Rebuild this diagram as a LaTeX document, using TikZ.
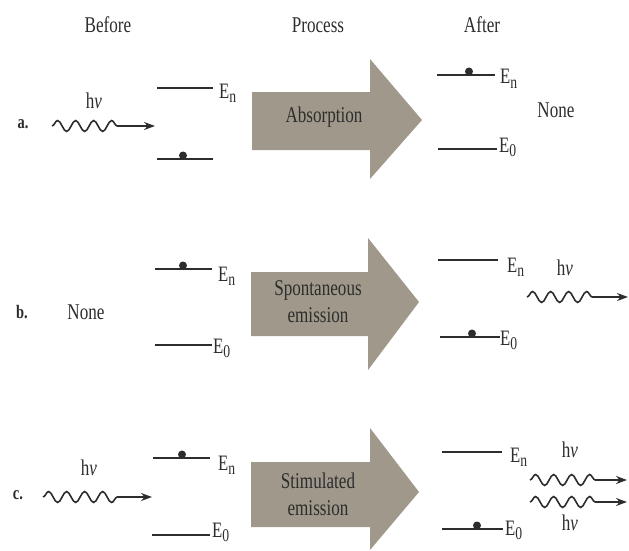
\documentclass[tikz,border=0pt]{standalone}
\usepackage{fontspec}
\setmainfont{Liberation Serif}
\usetikzlibrary{arrows.meta,decorations.pathmorphing}
\definecolor{ink}{RGB}{45,45,45}
\definecolor{procfill}{RGB}{160,152,138}
% narrow type, as in the printed figure
\newcommand\sq[1]{\scalebox{0.76}[1]{#1}}
\newcommand\lvl[1]{\sq{E\raisebox{-4.5pt}{\fontsize{18}{18}\selectfont #1}}}
\tikzset{
  txt/.style={font=\fontsize{22.5}{27}\selectfont, text=ink, inner sep=0pt},
  tag/.style={font=\bfseries\fontsize{19}{19}\selectfont, text=ink, inner sep=0pt},
  lbl/.style={font=\fontsize{22}{22}\selectfont, text=ink, inner sep=0pt, anchor=base west},
  level/.style={draw=ink, line width=2.2pt},
  electron/.style={circle, fill=ink, minimum size=8pt, inner sep=0pt},
  photon/.style={draw=ink, line width=1.6pt, decorate,
    decoration={snake, segment length=18pt, amplitude=5.5pt, post length=#1},
    -{Stealth[length=11pt,width=8pt]}},
  procarrow/.style={fill=procfill}
}
\begin{document}
\begin{tikzpicture}[x=1pt,y=-1pt]
\useasboundingbox (0,0) rectangle (629,551);

% column headings
\node[txt] (hbefore) at (108,25) {\sq{Before}};
\node[txt] (hproc) at (318,25) {\sq{Process}};
\node[txt] (hafter) at (482,25) {\sq{After}};

% ---------- a. absorption ----------
\node[tag] (ta) at (23,124) {\sq{a.}};
\node[txt] (hva) at (94,101) {\sq{h\textit{ν}}};
\coordinate (pa1) at (52,126); \coordinate (pa2) at (155,126);
\draw[photon=33pt] (pa1) -- (pa2);
\coordinate (an1) at (157,88); \coordinate (an2) at (213,88);
\coordinate (a01) at (157,159); \coordinate (a02) at (213,159);
\draw[level] (an1) -- (an2);
\draw[level] (a01) -- (a02);
\node[electron] (ea) at (183,155.5) {};
\node[lbl] (lan) at (219,98) {\lvl{n}};
\fill[procarrow] (252,92) -- (370,92) -- (370,59) -- (422,120) -- (370,179) -- (370,150) -- (252,150) -- cycle;
\node[txt] (pra) at (324,117) {\sq{Absorption}};
\coordinate (bn1) at (437,75); \coordinate (bn2) at (495,75);
\coordinate (b01) at (438,149); \coordinate (b02) at (497,149);
\draw[level] (bn1) -- (bn2);
\draw[level] (b01) -- (b02);
\node[electron] (fa) at (469,71.5) {};
\node[lbl] (lbn) at (500,84) {\lvl{n}};
\node[lbl] (lb0) at (499,152) {\lvl{0}};
\node[txt] (nonea) at (556,110) {\sq{None}};

% ---------- b. spontaneous emission ----------
\node[tag] (tb) at (22,312) {\sq{b.}};
\node[txt] (noneb) at (86,312) {\sq{None}};
\coordinate (cn1) at (155,269); \coordinate (cn2) at (212,269);
\coordinate (c01) at (155,345); \coordinate (c02) at (212,345);
\draw[level] (cn1) -- (cn2);
\draw[level] (c01) -- (c02);
\node[electron] (eb) at (183,265.5) {};
\node[lbl] (lcn) at (218,281) {\lvl{n}};
\node[lbl] (lc0) at (213,353) {\lvl{0}};
\fill[procarrow] (251,272) -- (368,272) -- (368,238) -- (419,302) -- (368,370) -- (368,336) -- (251,336) -- cycle;
\node[txt, align=center] (prb) at (318,302) {\sq{Spontaneous}\\\sq{emission}};
\coordinate (dn1) at (438,260); \coordinate (dn2) at (498,260);
\coordinate (d01) at (440,337); \coordinate (d02) at (500,337);
\draw[level] (dn1) -- (dn2);
\draw[level] (d01) -- (d02);
\node[electron] (fb) at (472,333.5) {};
\node[lbl] (ldn) at (507,272) {\lvl{n}};
\node[lbl] (ld0) at (500,345) {\lvl{0}};
\node[txt] (hvb) at (565,268) {\sq{h\textit{ν}}};
\coordinate (pb1) at (527,297); \coordinate (pb2) at (628,297);
\draw[photon=28pt] (pb1) -- (pb2);

% ---------- c. stimulated emission ----------
\node[tag] (tc) at (18,495) {\sq{c.}};
\node[txt] (hvc) at (89,468) {\sq{h\textit{ν}}};
\coordinate (pc1) at (43,497); \coordinate (pc2) at (152,497);
\draw[photon=34pt] (pc1) -- (pc2);
\coordinate (en1) at (153,458); \coordinate (en2) at (210,458);
\coordinate (e01) at (152,535); \coordinate (e02) at (210,535);
\draw[level] (en1) -- (en2);
\draw[level] (e01) -- (e02);
\node[electron] (ec) at (182,454.5) {};
\node[lbl] (len) at (218,470) {\lvl{n}};
\node[lbl] (le0) at (212,537) {\lvl{0}};
\fill[procarrow] (251,462) -- (370,462) -- (370,428) -- (419,492) -- (370,550) -- (370,527) -- (251,527) -- cycle;
\node[txt, align=center] (prc) at (318,494) {\sq{Stimulated}\\\sq{emission}};
\coordinate (gn1) at (442,452); \coordinate (gn2) at (502,452);
\coordinate (g01) at (442,529); \coordinate (g02) at (503,529);
\draw[level] (gn1) -- (gn2);
\draw[level] (g01) -- (g02);
\node[electron] (fc) at (477,525.5) {};
\node[lbl] (lgn) at (510,462) {\lvl{n}};
\node[lbl] (lg0) at (505,535) {\lvl{0}};
\node[txt] (hvc1) at (570,450) {\sq{h\textit{ν}}};
\node[txt] (hvc2) at (570,523) {\sq{h\textit{ν}}};
\coordinate (pd1) at (530,480); \coordinate (pd2) at (627,480);
\coordinate (pe1) at (530,502); \coordinate (pe2) at (627,502);
\draw[photon=24pt] (pd1) -- (pd2);
\draw[photon=24pt] (pe1) -- (pe2);
\end{tikzpicture}
\end{document}
